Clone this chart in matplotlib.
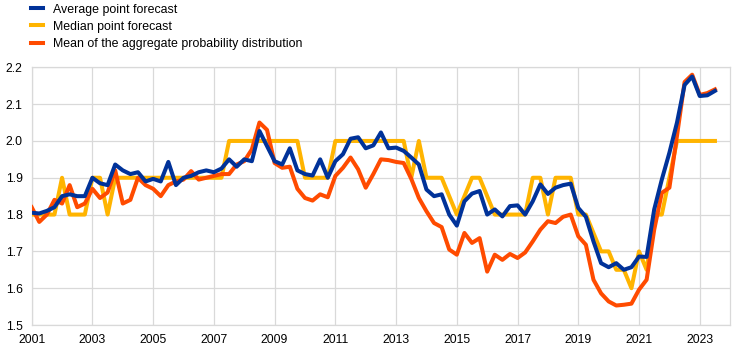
import numpy as np
import pandas as pd
import matplotlib
matplotlib.use("Agg")
import matplotlib.pyplot as plt

plt.rcParams['font.family'] = ['Liberation Sans', 'DejaVu Sans']

# quarterly survey rounds, 2001Q1 - 2023Q3
quarters = pd.period_range('2001Q1', '2023Q3', freq='Q')

average_point = [
    1.805, 1.803, 1.81, 1.82, 1.85, 1.855, 1.85, 1.85,
    1.90, 1.885, 1.88, 1.936, 1.92, 1.91, 1.915, 1.89,
    1.897, 1.89, 1.943, 1.88, 1.90, 1.905, 1.915, 1.92,
    1.915, 1.925, 1.95, 1.93, 1.95, 1.945, 2.027, 1.986,
    1.945, 1.936, 1.98, 1.92, 1.91, 1.906, 1.95, 1.90,
    1.945, 1.964, 2.006, 2.01, 1.98, 1.988, 2.023, 1.98,
    1.982, 1.973, 1.955, 1.936, 1.868, 1.85, 1.855, 1.80,
    1.77, 1.836, 1.857, 1.864, 1.80, 1.814, 1.795, 1.823,
    1.825, 1.80, 1.836, 1.882, 1.856, 1.873, 1.88, 1.884,
    1.818, 1.794, 1.727, 1.668, 1.657, 1.668, 1.65, 1.657,
    1.686, 1.685, 1.814, 1.895, 1.968, 2.05, 2.152, 2.175,
    2.122, 2.124, 2.136,
]

median_point = [
    1.80, 1.80, 1.80, 1.80, 1.90, 1.80, 1.80, 1.80,
    1.90, 1.90, 1.80, 1.90, 1.90, 1.90, 1.90, 1.90,
    1.90, 1.90, 1.90, 1.90, 1.90, 1.90, 1.90, 1.90,
    1.90, 1.90, 2.00, 2.00, 2.00, 2.00, 2.00, 2.00,
    2.00, 2.00, 2.00, 2.00, 1.90, 1.90, 1.90, 1.90,
    2.00, 2.00, 2.00, 2.00, 2.00, 2.00, 2.00, 2.00,
    2.00, 2.00, 1.90, 2.00, 1.90, 1.90, 1.90, 1.85,
    1.80, 1.85, 1.90, 1.90, 1.85, 1.80, 1.80, 1.80,
    1.80, 1.80, 1.90, 1.90, 1.80, 1.90, 1.90, 1.90,
    1.80, 1.80, 1.75, 1.70, 1.70, 1.65, 1.65, 1.60,
    1.70, 1.65, 1.80, 1.80, 1.90, 2.00, 2.00, 2.00,
    2.00, 2.00, 2.00,
]

mean_distribution = [
    1.82, 1.78, 1.80, 1.84, 1.83, 1.88, 1.82, 1.83,
    1.87, 1.845, 1.86, 1.92, 1.83, 1.84, 1.90, 1.88,
    1.87, 1.85, 1.88, 1.89, 1.895, 1.918, 1.895, 1.90,
    1.905, 1.91, 1.91, 1.936, 1.945, 1.977, 2.05, 2.03,
    1.94, 1.927, 1.93, 1.87, 1.845, 1.838, 1.855, 1.847,
    1.905, 1.927, 1.955, 1.923, 1.873, 1.91, 1.95, 1.948,
    1.943, 1.94, 1.897, 1.845, 1.809, 1.777, 1.766, 1.705,
    1.691, 1.75, 1.723, 1.736, 1.645, 1.691, 1.677, 1.693,
    1.682, 1.697, 1.727, 1.759, 1.782, 1.777, 1.794, 1.80,
    1.741, 1.718, 1.623, 1.586, 1.564, 1.553, 1.555, 1.558,
    1.596, 1.623, 1.759, 1.859, 1.873, 2.014, 2.16, 2.18,
    2.125, 2.13, 2.14,
]

labels = ["Average point forecast", "Median point forecast",
          "Mean of the aggregate probability distribution"]
year_ticks = list(range(2001, 2024, 2))
y_ticks = [1.5, 1.6, 1.7, 1.8, 1.9, 2.0, 2.1, 2.2]

blue = '#003299'
yellow = '#ffb400'
orange = '#ff4b00'
grid_col = '#d9d9d9'

x = quarters.year + (quarters.quarter - 1) / 4

fig = plt.figure(figsize=(7.42, 3.53), dpi=100)
ax = fig.add_axes([0.0427, 0.0793, 0.9413, 0.73])

lw = 2.9
l_med, = ax.plot(x, median_point, color=yellow, lw=lw, zorder=3)
l_mean, = ax.plot(x, mean_distribution, color=orange, lw=lw, zorder=4)
l_avg, = ax.plot(x, average_point, color=blue, lw=lw, zorder=5)

ax.set_xlim(2001, 2024)
ax.set_ylim(1.5, 2.2)
ax.set_xticks(year_ticks)
ax.set_xticklabels([str(y) for y in year_ticks])
ax.set_yticks(y_ticks)
ax.set_yticklabels([f"{v:.1f}" for v in y_ticks])
ax.tick_params(length=0, labelsize=8.8, colors='#000000')
ax.tick_params(axis='y', pad=6.5)
ax.tick_params(axis='x', pad=6.5)
ax.grid(True, color=grid_col, lw=0.9, zorder=0)
ax.set_axisbelow(True)
for s in ax.spines.values():
    s.set_color(grid_col)
    s.set_linewidth(0.9)

fig.legend([l_avg, l_med, l_mean], labels, loc='upper left',
           bbox_to_anchor=(0.0418, 0.990), frameon=False, fontsize=8.9,
           handlelength=1.0, handletextpad=0.75, labelspacing=0.42,
           borderpad=0, borderaxespad=0)

fig.savefig('out.png', dpi=100)
